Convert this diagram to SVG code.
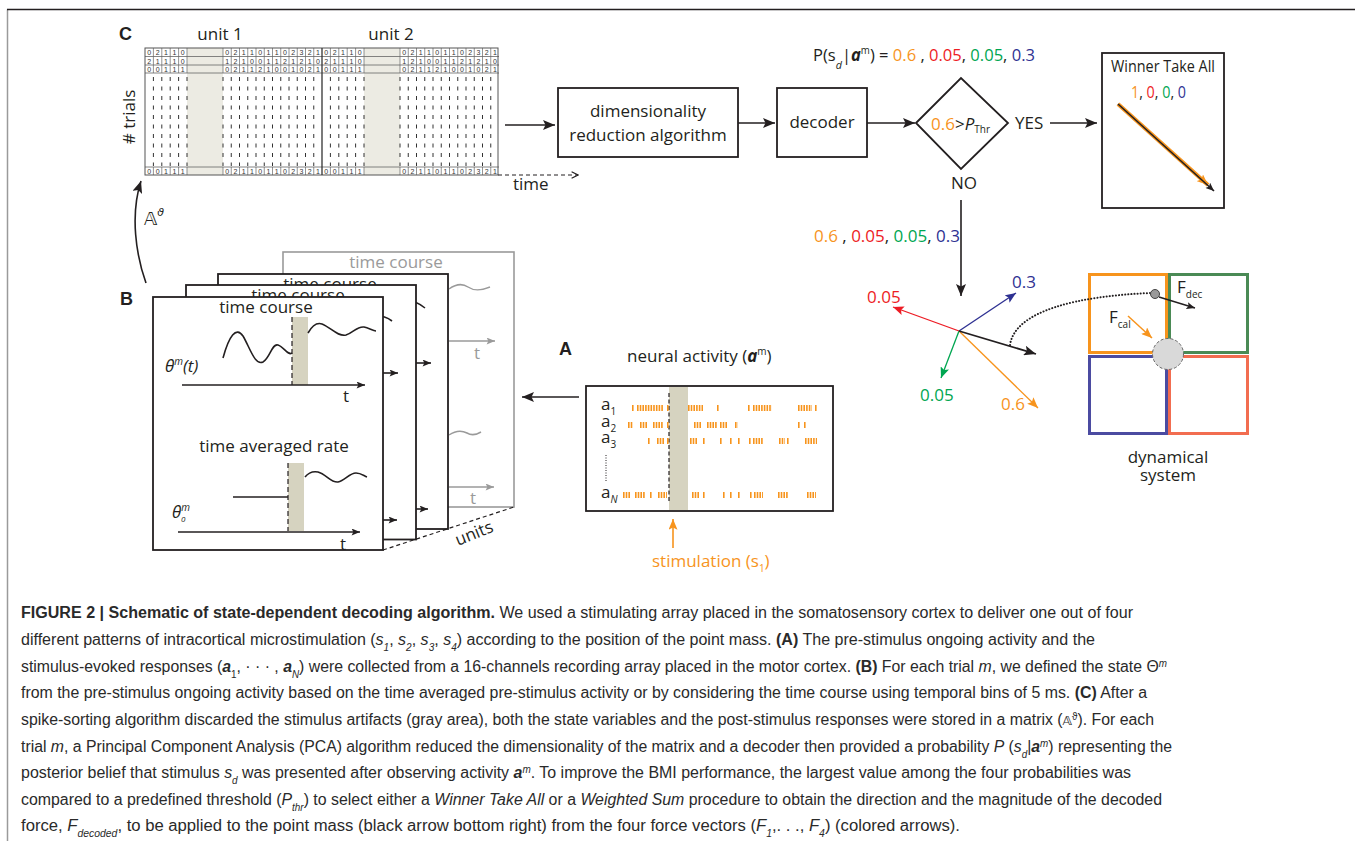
<svg xmlns="http://www.w3.org/2000/svg" xmlns:xlink="http://www.w3.org/1999/xlink" width="1355" height="841" viewBox="0 0 1355 841">
<style>
.d{font-family:"Open Sans","Liberation Sans",sans-serif;fill:#231f20;font-size:17px}
.lbl{font-family:"Liberation Sans",Arial,sans-serif;font-weight:bold;font-size:18px;fill:#231f20}
.cap{font-family:"Liberation Sans Narrow","Liberation Sans",Arial,sans-serif;font-size:16px;fill:#2a2a2a}
.b{font-weight:bold}
.i{font-style:italic}
.ln{stroke:#231f20;stroke-width:1.6;fill:none}
.box{fill:#fff;stroke:#231f20;stroke-width:1.8}
.num{font-family:"Liberation Sans",Arial,sans-serif;font-size:7px;fill:#333;text-anchor:middle}
.spk{stroke:#f7941d;stroke-width:6;stroke-dasharray:1.6 1.1;fill:none}
.or{fill:#f7941d}.rd{fill:#ed1c24}.gr{fill:#00a651}.bl{fill:#2e3192}
.sb{font-size:10px}
</style>
<defs>
<marker id="ah" viewBox="0 0 12 10" refX="12" refY="5" markerWidth="12" markerHeight="10" markerUnits="userSpaceOnUse" orient="auto"><path d="M0,0 L12,5 L0,10 L2.5,5 z" fill="#231f20"/></marker>
<marker id="ahs" viewBox="0 0 12 10" refX="12" refY="5" markerWidth="9" markerHeight="7" markerUnits="userSpaceOnUse" orient="auto"><path d="M0,0 L12,5 L0,10 L2.5,5 z" fill="#231f20"/></marker>
<marker id="ahg" viewBox="0 0 12 10" refX="12" refY="5" markerWidth="9" markerHeight="7" markerUnits="userSpaceOnUse" orient="auto"><path d="M0,0 L12,5 L0,10 L2.5,5 z" fill="#9a9a9a"/></marker>
<marker id="ahor" viewBox="0 0 12 10" refX="12" refY="5" markerWidth="11" markerHeight="9" markerUnits="userSpaceOnUse" orient="auto"><path d="M0,0 L12,5 L0,10 L2.5,5 z" fill="#f7941d"/></marker>
<marker id="ahrd" viewBox="0 0 12 10" refX="12" refY="5" markerWidth="11" markerHeight="9" markerUnits="userSpaceOnUse" orient="auto"><path d="M0,0 L12,5 L0,10 L2.5,5 z" fill="#ed1c24"/></marker>
<marker id="ahgr" viewBox="0 0 12 10" refX="12" refY="5" markerWidth="11" markerHeight="9" markerUnits="userSpaceOnUse" orient="auto"><path d="M0,0 L12,5 L0,10 L2.5,5 z" fill="#00a651"/></marker>
<marker id="ahbl" viewBox="0 0 12 10" refX="12" refY="5" markerWidth="11" markerHeight="9" markerUnits="userSpaceOnUse" orient="auto"><path d="M0,0 L12,5 L0,10 L2.5,5 z" fill="#2e3192"/></marker>
<marker id="ahopen" viewBox="0 0 10 10" refX="9" refY="5" markerWidth="8" markerHeight="8" markerUnits="userSpaceOnUse" orient="auto"><path d="M1,1 L9,5 L1,9" fill="none" stroke="#231f20" stroke-width="1.4"/></marker>
<g id="unit">
<rect x="42" y="48" width="36" height="127" fill="#ecebe3"/>
<path d="M0 56.5H177M0 65H177M0 73H177M0 167H177" stroke="#666" stroke-width="0.8" fill="none"/>
<path d="M8.4 48V73M16.8 48V73M25.2 48V73M33.6 48V73M42 48V73M78 48V73M86.25 48V73M94.5 48V73M102.75 48V73M111 48V73M119.25 48V73M127.5 48V73M135.75 48V73M144 48V73M152.25 48V73M160.5 48V73M168.75 48V73M8.4 167V175M16.8 167V175M25.2 167V175M33.6 167V175M42 167V175M78 167V175M86.25 167V175M94.5 167V175M102.75 167V175M111 167V175M119.25 167V175M127.5 167V175M135.75 167V175M144 167V175M152.25 167V175M160.5 167V175M168.75 167V175" stroke="#666" stroke-width="0.7" fill="none"/>
<path d="M8.4 77V166M16.8 77V166M25.2 77V166M33.6 77V166M42 77V166M78 77V166M86.25 77V166M94.5 77V166M102.75 77V166M111 77V166M119.25 77V166M127.5 77V166M135.75 77V166M144 77V166M152.25 77V166M160.5 77V166M168.75 77V166" stroke="#333" stroke-width="1" stroke-dasharray="4 5.5" fill="none"/>
<text class="num" x="4.2 12.6 21 29.4 37.8 82.1 90.4 98.6 106.9 115.1 123.4 131.6 139.9 148.1 156.4 164.6 172.9" y="55">02110021101102321</text>
<text class="num" x="4.2 12.6 21 29.4 37.8 82.1 90.4 98.6 106.9 115.1 123.4 131.6 139.9 148.1 156.4 164.6 172.9" y="63.5">21110121001121210</text>
<text class="num" x="4.2 12.6 21 29.4 37.8 82.1 90.4 98.6 106.9 115.1 123.4 131.6 139.9 148.1 156.4 164.6 172.9" y="71.5">00111021121001021</text>
<text class="num" x="4.2 12.6 21 29.4 37.8 82.1 90.4 98.6 106.9 115.1 123.4 131.6 139.9 148.1 156.4 164.6 172.9" y="173.5">00111021101102321</text>
</g>
</defs>
<rect width="1355" height="841" fill="#fff"/>
<g id="frame">
<path d="M7.5 9.5V841" stroke="#9a9a9a" stroke-width="1.5" fill="none"/>
<path d="M7 9.5H1355" stroke="#231f20" stroke-width="1.5" fill="none"/>
</g>

<g id="panel-labels">
<text class="lbl" x="119" y="40">C</text>
<text class="lbl" x="120" y="305">B</text>
<text class="lbl" x="559" y="355">A</text>
</g>

<g id="matrix">
<text class="d" x="220" y="40" text-anchor="middle">unit 1</text>
<text class="d" x="391" y="40" text-anchor="middle">unit 2</text>
<text class="d" transform="translate(135,117) rotate(-90)" text-anchor="middle"># trials</text>
<use xlink:href="#unit" href="#unit" x="145" y="0"/>
<use xlink:href="#unit" href="#unit" x="322" y="0"/>
<rect x="145" y="48" width="353" height="127" fill="none" stroke="#555" stroke-width="1"/>
<path d="M322 48V175" stroke="#333" stroke-width="1.3"/>
<text class="d" x="513" y="190">time</text>
</g>

<g id="dim-reduction">
<rect class="box" x="558" y="88" width="180" height="69"/>
<text class="d" x="648" y="117" text-anchor="middle">dimensionality</text>
<text class="d" x="648" y="141" text-anchor="middle">reduction algorithm</text>
</g>

<g id="decoder">
<rect class="box" x="777" y="88" width="90" height="69"/>
<text class="d" x="822" y="128" text-anchor="middle">decoder</text>
</g>

<g id="prob">
<text class="d" x="813" y="61" textLength="222" lengthAdjust="spacingAndGlyphs">P(s<tspan class="i" font-size="11" baseline-shift="sub">d</tspan>|<tspan class="b i">a</tspan><tspan font-size="10" baseline-shift="super">m</tspan>) = <tspan class="or">0.6</tspan> , <tspan class="rd">0.05</tspan>, <tspan class="gr">0.05</tspan>, <tspan class="bl">0.3</tspan></text>
</g>

<g id="threshold">
<path d="M916 123 L961 78 L1008 123 L961 169 Z" fill="#fff" stroke="#231f20" stroke-width="1.8"/>
<text class="d" x="931" y="130"><tspan class="or">0.6</tspan>&gt;<tspan class="i">P</tspan><tspan font-size="10" dy="3">Thr</tspan></text>
<text class="d" x="1015" y="129">YES</text>
<text class="d" x="951" y="189">NO</text>
</g>

<g id="winner">
<rect class="box" x="1102" y="53" width="122" height="155"/>
<text class="d" x="1111" y="72" font-size="14" textLength="104" lengthAdjust="spacingAndGlyphs">Winner Take All</text>
<text class="d" x="1131" y="98" font-size="14" textLength="55" lengthAdjust="spacingAndGlyphs"><tspan class="or">1</tspan>, <tspan class="rd">0</tspan>, <tspan class="gr">0</tspan>, <tspan class="bl">0</tspan></text>
<path d="M1118 104 L1208 185" stroke="#f7941d" stroke-width="4" fill="none" marker-end="url(#ahor)"/>
<path d="M1118 104 L1214 191" stroke="#231f20" stroke-width="1.6" fill="none" marker-end="url(#ahs)"/>
</g>

<g id="vectors">
<text class="d" x="814" y="242" font-size="16"><tspan class="or">0.6</tspan> , <tspan class="rd">0.05</tspan>, <tspan class="gr">0.05</tspan>, <tspan class="bl">0.3</tspan></text>
<path d="M959 331 L893 307" stroke="#ed1c24" stroke-width="1.3" fill="none" marker-end="url(#ahrd)"/>
<path d="M959 331 L1016 293" stroke="#2e3192" stroke-width="1.3" fill="none" marker-end="url(#ahbl)"/>
<path d="M959 331 L941 378" stroke="#00a651" stroke-width="1.3" fill="none" marker-end="url(#ahgr)"/>
<path d="M959 331 L1038 408" stroke="#f7941d" stroke-width="1.3" fill="none" marker-end="url(#ahor)"/>
<path d="M959 331 L1036 354" stroke="#231f20" stroke-width="1.8" fill="none" marker-end="url(#ah)"/>
<text class="d rd" x="867" y="303" font-size="15">0.05</text>
<text class="d bl" x="1012" y="288" font-size="15">0.3</text>
<text class="d gr" x="920" y="401" font-size="15">0.05</text>
<text class="d or" x="1001" y="410" font-size="15">0.6</text>
</g>

<g id="dynamical-system">
<rect x="1089.5" y="274.5" width="77" height="78" fill="none" stroke="#f7941d" stroke-width="3"/>
<rect x="1169.5" y="274.5" width="78" height="78" fill="none" stroke="#4a8a55" stroke-width="3"/>
<rect x="1089.5" y="356.5" width="77" height="77" fill="none" stroke="#4b4ba1" stroke-width="3"/>
<rect x="1169.5" y="356.5" width="78" height="77" fill="none" stroke="#f26d50" stroke-width="3"/>
<path d="M1010 345 C1015 310 1080 296 1150 293" fill="none" stroke="#231f20" stroke-width="2" stroke-dasharray="0.1 3" stroke-linecap="round"/>
<circle cx="1168" cy="354" r="15.5" fill="#d9d9d9" stroke="#666" stroke-width="1" stroke-dasharray="3 2"/>
<path d="M1159 297 L1195 308" stroke="#231f20" stroke-width="1.4" fill="none" marker-end="url(#ahs)"/>
<circle cx="1155" cy="294" r="4.5" fill="#9a9a9a" stroke="#444" stroke-width="1"/>
<text class="d" x="1177" y="293" font-size="15">F<tspan font-size="10" dy="5">dec</tspan></text>
<path d="M1128 316 L1152 338" stroke="#f7941d" stroke-width="1.5" fill="none" marker-end="url(#ahor)"/>
<text class="d" x="1109" y="323" font-size="15">F<tspan font-size="10" dy="5">cal</tspan></text>
<text class="d" x="1168" y="463" text-anchor="middle">dynamical</text>
<text class="d" x="1168" y="481" text-anchor="middle">system</text>
</g>

<g id="panel-b">
<g id="frame-back">
<rect x="283" y="252" width="231" height="255" fill="#fff" stroke="#9a9a9a" stroke-width="1.6"/>
<text class="d" x="396" y="268" text-anchor="middle" style="fill:#9a9a9a">time course</text>
<path d="M449 289 C456 284 462 283 468 287 C474 291 480 291 490 287" stroke="#9a9a9a" stroke-width="1.5" fill="none"/>
<path d="M449 341 H495" stroke="#9a9a9a" stroke-width="1.5" fill="none" marker-end="url(#ahg)"/>
<text class="d" x="474" y="359" style="fill:#9a9a9a">t</text>
<path d="M449 435 C455 431 461 430 467 433 C472 436 476 435 481 432" stroke="#9a9a9a" stroke-width="1.5" fill="none"/>
<path d="M449 487 H494" stroke="#9a9a9a" stroke-width="1.5" fill="none" marker-end="url(#ahg)"/>
<text class="d" x="470" y="504" style="fill:#9a9a9a">t</text>
</g>
<g id="frame-3">
<rect class="box" x="218" y="274" width="230" height="255" stroke-width="1.6"/>
<text class="d" x="330" y="290" text-anchor="middle">time course</text>
<path d="M405 300 C414 300 420 304 425 308" class="ln" stroke-width="1.4"/>
<path d="M400 363 H431" class="ln" stroke-width="1.4" marker-end="url(#ahs)"/>
<path d="M400 509 H428" class="ln" stroke-width="1.4" marker-end="url(#ahs)"/>
</g>
<g id="frame-2">
<rect class="box" x="186" y="285" width="230" height="254.5" stroke-width="1.6"/>
<text class="d" x="298" y="301" text-anchor="middle">time course</text>
<path d="M372 316 C382 315 388 318 392 321" class="ln" stroke-width="1.4"/>
<path d="M370 373 H398" class="ln" stroke-width="1.4" marker-end="url(#ahs)"/>
<path d="M370 520 H397" class="ln" stroke-width="1.4" marker-end="url(#ahs)"/>
</g>
<g id="frame-1">
<rect class="box" x="153" y="297" width="230" height="253"/>
<text class="d" x="266" y="313" text-anchor="middle">time course</text>
<rect x="292" y="317" width="16" height="68" fill="#d6d3c0"/>
<path d="M292 317 V385" stroke="#231f20" stroke-width="1.2" stroke-dasharray="5 3"/>
<path d="M223 358 C229 336 236 326 243 336 C250 348 255 366 263 362 C270 358 272 343 278 345 C284 347 288 356 292 353" class="ln" stroke-width="1.5"/>
<path d="M308 333 C312 326 316 322 322 324 C330 327 338 337 346 335 C353 333 357 326 364 327 C369 328 373 331 376 331" class="ln" stroke-width="1.5"/>
<text class="d i" x="165" y="372">θ<tspan font-size="10" dy="-7">m</tspan><tspan dy="7">(t)</tspan></text>
<path d="M182 385 H365" class="ln" marker-end="url(#ahs)"/>
<text class="d" x="343" y="402">t</text>
<text class="d" x="274" y="452" text-anchor="middle">time averaged rate</text>
<rect x="288" y="463" width="16" height="68" fill="#d6d3c0"/>
<path d="M288 463 V531" stroke="#231f20" stroke-width="1.2" stroke-dasharray="5 3"/>
<path d="M233 497 H288" class="ln" stroke-width="1.5"/>
<path d="M305 477 C309 472 313 471 318 472 C326 474 331 483 338 482 C345 481 349 473 356 473 C361 473 364 476 367 477" class="ln" stroke-width="1.5"/>
<text class="d i" x="172" y="518">θ<tspan font-size="10" dy="-7">m</tspan><tspan font-size="8" x="181" dy="11">0</tspan></text>
<path d="M178 532 H360" class="ln" marker-end="url(#ahs)"/>
<text class="d" x="340" y="550">t</text>
</g>
<path d="M383 550 L514 507" stroke="#231f20" stroke-width="1.2" stroke-dasharray="4 3" fill="none"/>
<text class="d" x="458" y="546" font-size="12" transform="rotate(-22 458 546)">units</text>
</g>

<g id="panel-a">
<text class="d" x="627" y="362">neural activity (<tspan class="b i">a</tspan><tspan font-size="10" dy="-7">m</tspan><tspan dy="7">)</tspan></text>
<rect class="box" x="586" y="386" width="247" height="125"/>
<rect x="669" y="387" width="19" height="123" fill="#d6d3c0"/>
<path d="M669 393 V503" stroke="#231f20" stroke-width="1.2" stroke-dasharray="4 2.5"/>
<text class="d" x="601" y="410">a<tspan font-size="10" dy="5">1</tspan></text>
<text class="d" x="601" y="427">a<tspan font-size="10" dy="5">2</tspan></text>
<text class="d" x="601" y="443">a<tspan font-size="10" dy="5">3</tspan></text>
<path d="M606 455 V482" stroke="#231f20" stroke-width="1" stroke-dasharray="1 1.5"/>
<text class="d" x="601" y="498">a<tspan class="i" font-size="10" dy="5">N</tspan></text>
<path class="spk" d="M632 408h2M637 408H663M667 408h2M688 408H703M717 408h2M748 408h2M753 408H772M798 408H812M815 408h2"/>
<path class="spk" d="M628 425H633M640 425H647M653 425H663M667 425h2M694 425H702M707 425H717M720 425H728M735 425h3M798 425h2M804 425h2"/>
<path class="spk" d="M648 441h2M657 441H665M667 441h2M690 441H698M703 441h2M720 441h2M730 441h2M738 441h2M749 441h2M753 441H763M779 441H785M787 441h2M805 441H817"/>
<path class="spk" d="M623 495H630M635 495H645M650 495h2M658 495H667M692 495H700M703 495h2M723 495h2M730 495h2M738 495h2M750 495h2M754 495H763M778 495H788M807 495H816"/>
<path d="M673 548 V519" stroke="#f7941d" stroke-width="1.6" fill="none" marker-end="url(#ahor)"/>
<text class="d or" x="652" y="567">stimulation (s<tspan font-size="10" dy="5">1</tspan><tspan dy="-5">)</tspan></text>
</g>

<g id="theta-label">
<text x="144" y="225" font-family="DejaVu Sans, sans-serif" font-size="18" fill="#231f20">𝔸<tspan font-size="11" dy="-9" font-style="italic">ϑ</tspan></text>
</g>

<g id="connectors">
<path d="M505 125 H555" class="ln" stroke-width="1.8" marker-end="url(#ah)"/>
<path d="M738 123 H775" class="ln" stroke-width="1.8" marker-end="url(#ah)"/>
<path d="M867 123 H915" class="ln" stroke-width="1.8" marker-end="url(#ah)"/>
<path d="M1050 123 H1097" class="ln" stroke-width="1.6" marker-end="url(#ah)"/>
<path d="M961 200 V296" class="ln" stroke-width="1.6" marker-end="url(#ah)"/>
<path d="M579 397 H522" class="ln" stroke-width="1.6" marker-end="url(#ah)"/>
<path d="M146 283 C136 255 130 215 141 181" class="ln" stroke-width="1.6" marker-end="url(#ah)"/>
<path d="M498 175 H578" stroke="#231f20" stroke-width="1" stroke-dasharray="4 3" fill="none" marker-end="url(#ahopen)"/>
</g>

<g id="caption">
<text class="cap" x="21" y="618" textLength="1112" lengthAdjust="spacingAndGlyphs"><tspan class="b">FIGURE 2 | Schematic of state-dependent decoding algorithm.</tspan> We used a stimulating array placed in the somatosensory cortex to deliver one out of four</text>
<text class="cap" x="21" y="645" textLength="1074" lengthAdjust="spacingAndGlyphs">different patterns of intracortical microstimulation (<tspan class="i">s</tspan><tspan class="i sb" baseline-shift="sub">1</tspan>, <tspan class="i">s</tspan><tspan class="i sb" baseline-shift="sub">2</tspan>, <tspan class="i">s</tspan><tspan class="i sb" baseline-shift="sub">3</tspan>, <tspan class="i">s</tspan><tspan class="i sb" baseline-shift="sub">4</tspan>) according to the position of the point mass. <tspan class="b">(A)</tspan> The pre-stimulus ongoing activity and the</text>
<text class="cap" x="21" y="671.5" textLength="1146" lengthAdjust="spacingAndGlyphs">stimulus-evoked responses (<tspan class="b i">a</tspan><tspan class="sb" baseline-shift="sub">1</tspan>, · · · , <tspan class="b i">a</tspan><tspan class="i sb" baseline-shift="sub">N</tspan>) were collected from a 16-channels recording array placed in the motor cortex. <tspan class="b">(B)</tspan> For each trial <tspan class="i">m</tspan>, we defined the state Θ<tspan class="i sb" baseline-shift="super">m</tspan></text>
<text class="cap" x="21" y="698" textLength="1126" lengthAdjust="spacingAndGlyphs">from the pre-stimulus ongoing activity based on the time averaged pre-stimulus activity or by considering the time course using temporal bins of 5 ms. <tspan class="b">(C)</tspan> After a</text>
<text class="cap" x="21" y="725" textLength="1133" lengthAdjust="spacingAndGlyphs">spike-sorting algorithm discarded the stimulus artifacts (gray area), both the state variables and the post-stimulus responses were stored in a matrix (<tspan font-family="DejaVu Sans, sans-serif" font-size="13">𝔸</tspan><tspan class="sb" baseline-shift="super">ϑ</tspan>). For each</text>
<text class="cap" x="21" y="751.5" textLength="1151" lengthAdjust="spacingAndGlyphs">trial <tspan class="i">m</tspan>, a Principal Component Analysis (PCA) algorithm reduced the dimensionality of the matrix and a decoder then provided a probability <tspan class="i">P</tspan> (<tspan class="i">s</tspan><tspan class="i sb" baseline-shift="sub">d</tspan>|<tspan class="b i">a</tspan><tspan class="i sb" baseline-shift="super">m</tspan>) representing the</text>
<text class="cap" x="21" y="778" textLength="1110" lengthAdjust="spacingAndGlyphs">posterior belief that stimulus <tspan class="i">s</tspan><tspan class="i sb" baseline-shift="sub">d</tspan> was presented after observing activity <tspan class="b i">a</tspan><tspan class="i sb" baseline-shift="super">m</tspan>. To improve the BMI performance, the largest value among the four probabilities was</text>
<text class="cap" x="21" y="804.5" textLength="1141" lengthAdjust="spacingAndGlyphs">compared to a predefined threshold (<tspan class="i">P</tspan><tspan class="i sb" baseline-shift="sub">thr</tspan>) to select either a <tspan class="i">Winner Take All</tspan> or a <tspan class="i">Weighted Sum</tspan> procedure to obtain the direction and the magnitude of the decoded</text>
<text class="cap" x="21" y="831" textLength="939" lengthAdjust="spacingAndGlyphs">force, <tspan class="i">F</tspan><tspan class="i sb" baseline-shift="sub">decoded</tspan>, to be applied to the point mass (black arrow bottom right) from the four force vectors (<tspan class="i">F</tspan><tspan class="i sb" baseline-shift="sub">1</tspan>,. . ., <tspan class="i">F</tspan><tspan class="i sb" baseline-shift="sub">4</tspan>) (colored arrows).</text>
</g>
</svg>
